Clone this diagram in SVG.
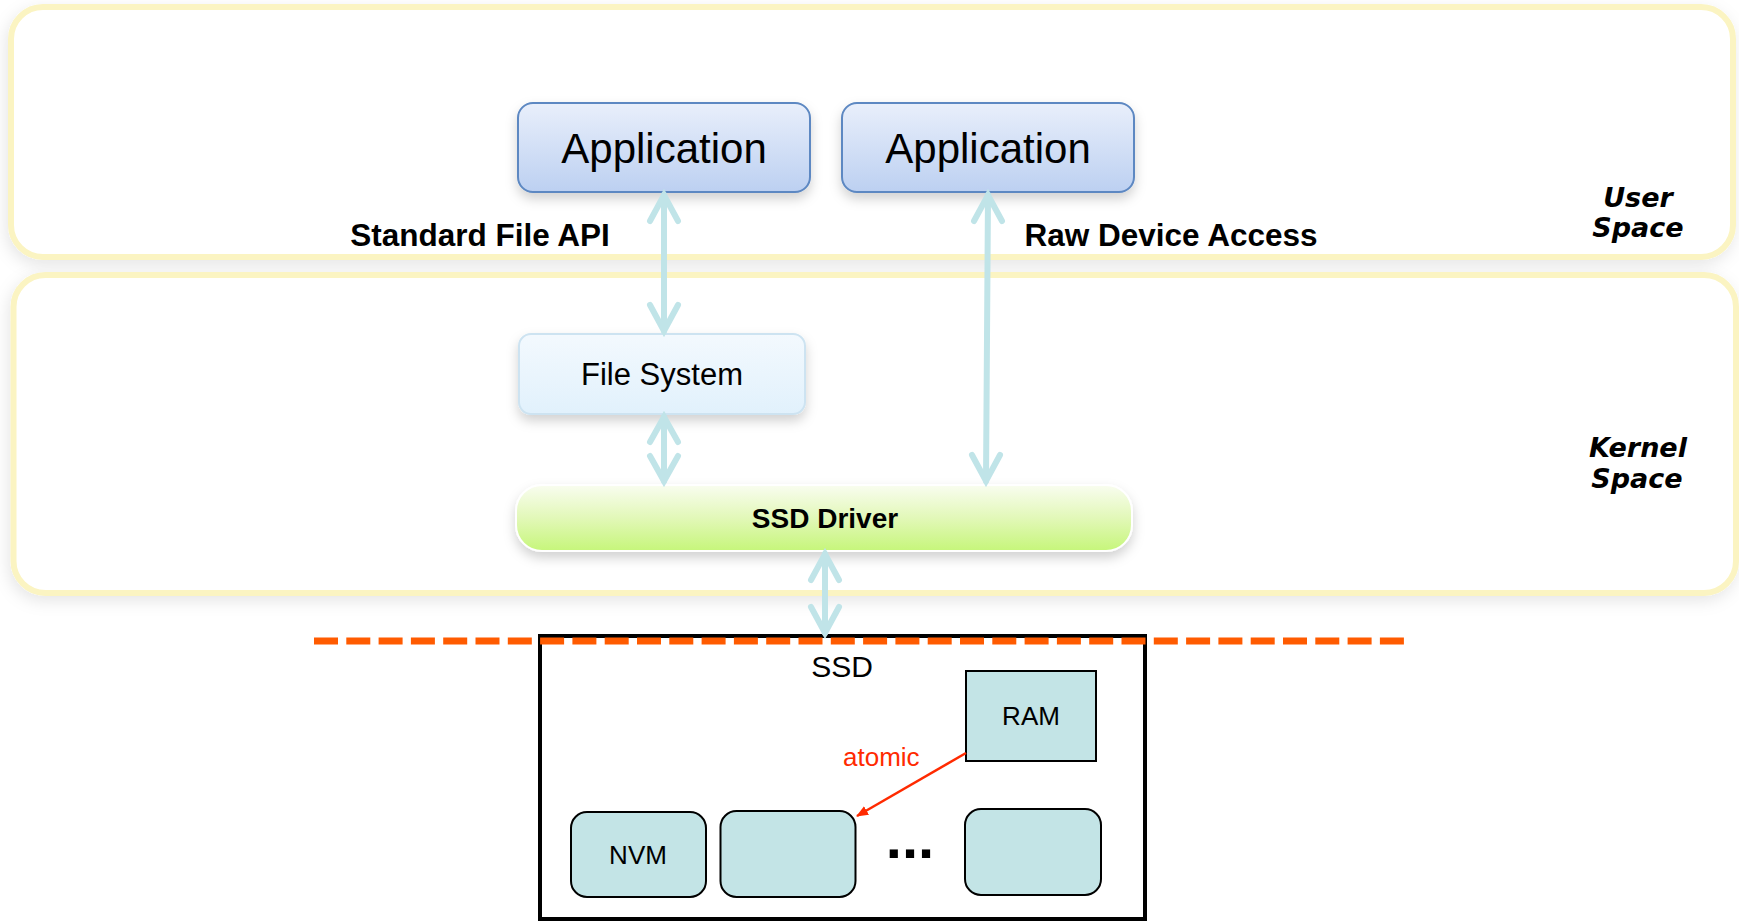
<svg xmlns="http://www.w3.org/2000/svg" width="1739" height="921" viewBox="0 0 1739 921">
<style>
.region{fill:#ffffff;stroke:#fbf4c2;stroke-width:6}
.app{stroke:#5d88c2;stroke-width:2}
.lbl{font-family:"Liberation Sans",Arial,sans-serif;fill:#000}
.bold{font-weight:bold}
.space{font-family:"DejaVu Sans",sans-serif;font-weight:bold;font-style:italic;font-size:27px;text-anchor:middle}
.conn{stroke:#c0e4e8;stroke-width:6;fill:none;stroke-linecap:round}
.mem{fill:#c3e4e6;stroke:#000;stroke-width:2}
</style>
<defs>
<filter id="sh" x="-10%" y="-20%" width="120%" height="150%">
<feDropShadow dx="0" dy="6" stdDeviation="6" flood-color="#000" flood-opacity="0.18"/>
</filter>
<filter id="shs" x="-5%" y="-10%" width="110%" height="130%">
<feDropShadow dx="-2" dy="5" stdDeviation="8" flood-color="#000" flood-opacity="0.1"/>
</filter>
<linearGradient id="gApp" x1="0" y1="0" x2="0" y2="1">
<stop offset="0" stop-color="#e9effb"/>
<stop offset="1" stop-color="#bcd0f1"/>
</linearGradient>
<linearGradient id="gFs" x1="0" y1="0" x2="0" y2="1">
<stop offset="0" stop-color="#f3f9fe"/>
<stop offset="1" stop-color="#e1f1fc"/>
</linearGradient>
<linearGradient id="gDrv" x1="0" y1="0" x2="0" y2="1">
<stop offset="0" stop-color="#f9fdf0"/>
<stop offset="0.5" stop-color="#e2f8b8"/>
<stop offset="1" stop-color="#c6f67a"/>
</linearGradient>
<marker id="ah" viewBox="0 0 12 10" refX="11" refY="5" markerWidth="12" markerHeight="10" markerUnits="userSpaceOnUse" orient="auto">
<path d="M0,0 L12,5 L0,10 Z" fill="#ff2a00"/>
</marker>
</defs>

<g id="user-space">
<rect class="region" x="11" y="7" width="1722" height="250" rx="32" filter="url(#shs)"/>
<text class="space" x="1638" y="207">User</text>
<text class="space" x="1638" y="237">Space</text>
</g>

<g id="kernel-space">
<rect class="region" x="13.5" y="275" width="1722.5" height="318" rx="32" filter="url(#shs)"/>
<text class="space" x="1638" y="457">Kernel</text>
<text class="space" x="1637" y="488">Space</text>
</g>

<g id="app1">
<rect class="app" x="518" y="103" width="292" height="89" rx="15" fill="url(#gApp)" filter="url(#sh)"/>
<text class="lbl" x="664" y="163" font-size="42" text-anchor="middle">Application</text>
</g>

<g id="app2">
<rect class="app" x="842" y="103" width="292" height="89" rx="15" fill="url(#gApp)" filter="url(#sh)"/>
<text class="lbl" x="988" y="163" font-size="42" text-anchor="middle">Application</text>
</g>

<g id="label-std">
<text class="lbl bold" x="480" y="246" font-size="31.5" text-anchor="middle">Standard File API</text>
</g>
<g id="label-raw">
<text class="lbl bold" x="1171" y="246" font-size="31.5" text-anchor="middle">Raw Device Access</text>
</g>

<g id="filesystem">
<rect x="519" y="334" width="286" height="80" rx="12" fill="url(#gFs)" stroke="#cde3f1" stroke-width="2" filter="url(#sh)"/>
<text class="lbl" x="662" y="385" font-size="31" text-anchor="middle">File System</text>
</g>

<g id="ssd-driver">
<rect x="516" y="485" width="616" height="66" rx="26" fill="url(#gDrv)" stroke="#ffffff" stroke-width="2" filter="url(#sh)"/>
<text class="lbl bold" x="825" y="528" font-size="28" text-anchor="middle">SSD Driver</text>
</g>

<g id="ssd">
<rect x="540" y="636" width="605" height="283" fill="#ffffff" stroke="#000" stroke-width="4"/>
<text class="lbl" x="842" y="677" font-size="30" text-anchor="middle">SSD</text>
</g>

<g id="ram">
<rect class="mem" x="966" y="671" width="130" height="90"/>
<text class="lbl" x="1031" y="725" font-size="26" text-anchor="middle">RAM</text>
</g>

<g id="nvm1">
<rect class="mem" x="571" y="812" width="135" height="85" rx="16"/>
<text class="lbl" x="638" y="864" font-size="26" text-anchor="middle">NVM</text>
</g>
<g id="nvm2">
<rect class="mem" x="720.5" y="811" width="135" height="86" rx="16"/>
</g>
<g id="nvm3">
<rect class="mem" x="965" y="809" width="136" height="86" rx="16"/>
</g>
<g id="ellipsis">
<text class="lbl bold" x="910" y="858" font-size="58" text-anchor="middle">...</text>
</g>

<g id="boundary">
<line x1="314" y1="641" x2="1404" y2="641" stroke="#ff5b00" stroke-width="7" stroke-dasharray="24 8.3"/>
</g>

<g id="connectors">
<path class="conn" d="M664,195 L664,331"/>
<path class="conn" d="M650,221 L664,195 L678,221"/>
<path class="conn" d="M650,305 L664,331 L678,305"/>
<path class="conn" d="M664,417 L664,481"/>
<path class="conn" d="M650,442 L664,417 L678,442"/>
<path class="conn" d="M650,456 L664,481 L678,456"/>
<path class="conn" d="M988,195 L986,481"/>
<path class="conn" d="M974,221 L988,195 L1002,221"/>
<path class="conn" d="M972,455 L986,481 L1000,455"/>
<path class="conn" d="M825,554 L825,633"/>
<path class="conn" d="M811,580 L825,554 L839,580"/>
<path class="conn" d="M811,607 L825,633 L839,607"/>
<line x1="966" y1="753" x2="857" y2="816" stroke="#ff2a00" stroke-width="2.5" marker-end="url(#ah)"/>
<text class="lbl" x="843" y="766" font-size="26" style="fill:#ff2a00">atomic</text>
</g>
</svg>
